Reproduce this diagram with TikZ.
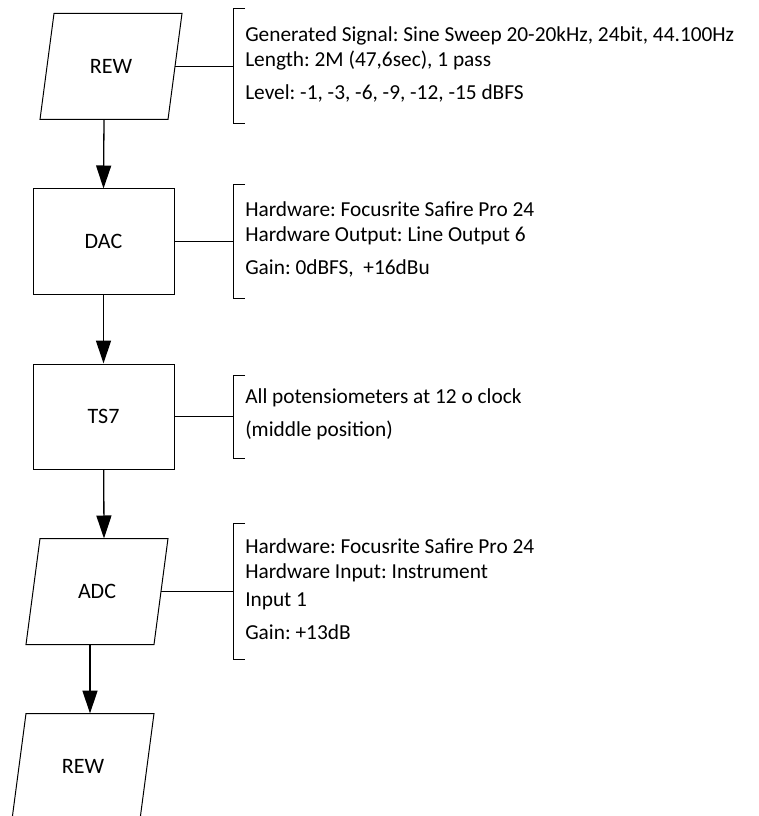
\documentclass[tikz,border=0pt]{standalone}
\usepackage{fontspec}
\setmainfont{Carlito}
\usetikzlibrary{arrows.meta}
\newlength{\du}
\setlength{\du}{0.75pt}
\frenchspacing

\begin{document}
\begin{tikzpicture}[
  block/.style={draw, line width=1\du, minimum width=141\du, minimum height=105\du, inner sep=0pt, font=\fontsize{16.5}{19}\selectfont},
  iobox/.style={block, draw=none, minimum width=127\du},
  note/.style={anchor=west, align=left, inner sep=0pt, font=\fontsize{16}{18.75}\selectfont},
  link/.style={line width=1\du},
  flow/.style={line width=1.3\du, -{Triangle[length=17.25pt,width=11.25pt]}}
]
\pgftransformxscale{1.000000}
\pgftransformyscale{-1.000000}
\useasboundingbox (0\du,0\du) rectangle (758\du,816\du);
% blocks
\node[iobox] (rew) at (111\du,66.5\du) {REW};
\node[block] (dac) at (103.5\du,241.5\du) {DAC};
\node[block] (ts7) at (103.5\du,416.5\du) {TS7};
\node[iobox] (adc) at (97\du,591.5\du) {ADC};
\node[iobox] (rewout) at (83\du,766.5\du) {REW};
\foreach \n in {rew,adc,rewout}
  \draw[link] ([xshift=7\du]\n.north west) -- ([xshift=7\du]\n.north east) -- ([xshift=-7\du]\n.south east) -- ([xshift=-7\du]\n.south west) -- cycle;
% signal flow
\draw[flow] ([xshift=-7\du]rew.south) -- (dac.north);
\draw[flow] (dac) -- (ts7);
\draw[flow] (ts7) -- ([xshift=7\du]adc.north);
\draw[flow] ([xshift=-7\du]adc.south) -- ([xshift=7\du]rewout.north);
% brackets
\coordinate (rewbr) at (233\du,66.5\du);
\coordinate (dacbr) at (233\du,241.5\du);
\coordinate (ts7br) at (233\du,416.5\du);
\coordinate (adcbr) at (233\du,591.5\du);
\foreach \n/\h in {rew/57.5,dac/57,ts7/41.5,adc/68}
{
\draw[link] (\n.east) -- (\n br);
\draw[link] ([xshift=12\du,yshift=-\h\du]\n br) -- ([yshift=-\h\du]\n br) -- ([yshift=\h\du]\n br) -- ([xshift=12\du,yshift=\h\du]\n br);
}
% notes
\node[note] (rewtxt) at (245\du,64.5\du) {Generated Signal: Sine Sweep 20-20kHz, 24bit, 44.100Hz\\ Length: 2M (47,6sec), 1 pass\\[6pt] Level: -1, -3, -6, -9, -12, -15 dBFS};
\node[note] (dactxt) at (245\du,239.5\du) {Hardware: Focusrite Safire Pro 24\\ Hardware Output: Line Output 6\\[6pt] Gain: 0dBFS, \ +16dBu};
\node[note] (ts7txt) at (245\du,414.5\du) {All potensiometers at 12 o clock\\[6pt] (middle position)};
\node[note] (adctxt) at (245\du,589.5\du) {Hardware: Focusrite Safire Pro 24\\ Hardware Input: Instrument\\[2pt] Input 1\\[6pt] Gain: +13dB};
\end{tikzpicture}
\end{document}
